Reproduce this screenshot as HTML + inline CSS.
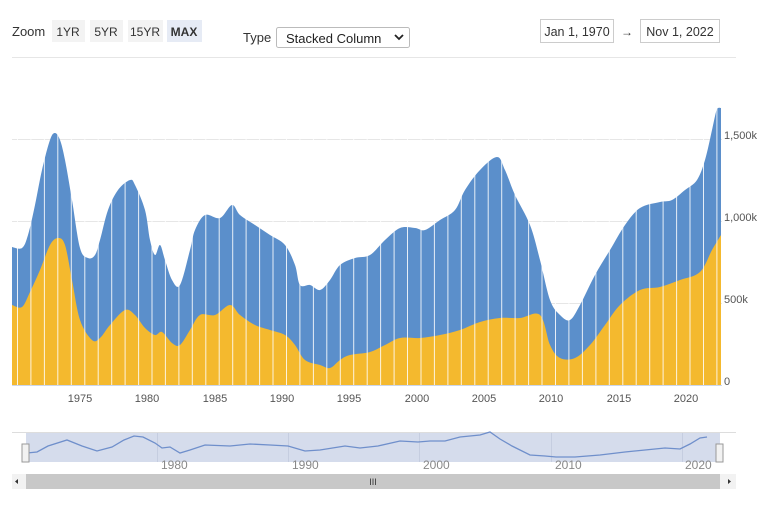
<!DOCTYPE html>
<html><head><meta charset="utf-8"><style>
body{margin:0;background:#fff;font-family:"Liberation Sans",sans-serif;}
</style></head><body>
<svg width="768" height="500" xmlns="http://www.w3.org/2000/svg" font-family="Liberation Sans, sans-serif">
<rect width="768" height="500" fill="#fff"/>
<text x="12" y="36" font-size="13" fill="#333">Zoom</text>
<rect x="52" y="20" width="33" height="22" fill="#f3f3f3"/><text x="68" y="36" font-size="12" fill="#333" text-anchor="middle">1YR</text>
<rect x="90" y="20" width="33" height="22" fill="#f3f3f3"/><text x="106" y="36" font-size="12" fill="#333" text-anchor="middle">5YR</text>
<rect x="128" y="20" width="35" height="22" fill="#f3f3f3"/><text x="145" y="36" font-size="12" fill="#333" text-anchor="middle">15YR</text>
<rect x="167" y="20" width="35" height="22" fill="#e6ebf5"/><text x="184" y="36" font-size="12" fill="#333" font-weight="bold" text-anchor="middle">MAX</text>
<text x="243" y="42" font-size="13" fill="#333">Type</text>
<rect x="276.5" y="27.5" width="133" height="20" fill="#fff" stroke="#bbb" rx="2"/>
<text x="286" y="43" font-size="13" fill="#222">Stacked Column</text>
<path d="M395 35 l4 4 l4 -4" stroke="#222" stroke-width="1.8" fill="none"/>
<rect x="540.5" y="19.5" width="73" height="23" fill="#fff" stroke="#ccc"/>
<text x="577" y="36" font-size="12.5" fill="#333" text-anchor="middle">Jan 1, 1970</text>
<text x="627" y="36" font-size="12" fill="#333" text-anchor="middle">→</text>
<rect x="640.5" y="19.5" width="79" height="23" fill="#fff" stroke="#ccc"/>
<text x="680" y="36" font-size="12.5" fill="#333" text-anchor="middle">Nov 1, 2022</text>
<line x1="12" y1="57.5" x2="736" y2="57.5" stroke="#e6e6e6"/>
<g stroke="#e6e6e6"><line x1="12" y1="139.5" x2="722" y2="139.5"/><line x1="12" y1="221.5" x2="722" y2="221.5"/><line x1="12" y1="303.5" x2="722" y2="303.5"/></g>
<path id="blue" fill="#5b8fcb"/>
<path id="yel" fill="#f4b92e"/>
<g id="gaps" stroke="#fff" stroke-width="1" opacity="0.85"></g>
<line x1="12" y1="385.5" x2="722" y2="385.5" stroke="#ccd6eb"/>
<g font-size="11" fill="#555">
<text x="724" y="139">1,500k</text><text x="724" y="221">1,000k</text><text x="724" y="303">500k</text><text x="724" y="385">0</text>
</g>
<g font-size="11" fill="#555" text-anchor="middle">
<text x="80" y="402">1975</text><text x="147" y="402">1980</text><text x="215" y="402">1985</text><text x="282" y="402">1990</text><text x="349" y="402">1995</text><text x="417" y="402">2000</text><text x="484" y="402">2005</text><text x="551" y="402">2010</text><text x="619" y="402">2015</text><text x="686" y="402">2020</text>
</g>
<line x1="12" y1="432.5" x2="736" y2="432.5" stroke="#ddd"/>
<rect x="26" y="433" width="694" height="29" fill="#d5dcec"/>
<g stroke="#c5cde0"><line x1="157.5" y1="433" x2="157.5" y2="462"/><line x1="288.5" y1="433" x2="288.5" y2="462"/><line x1="419.5" y1="433" x2="419.5" y2="462"/><line x1="551.5" y1="433" x2="551.5" y2="462"/><line x1="682.5" y1="433" x2="682.5" y2="462"/></g>
<polyline fill="none" stroke="#6f8fcb" stroke-width="1.3" points="27,453 37,452 48,446 67,440 82,446 97,451 112,447 124,440 134,436 143,437 155,443 162,448 170,447 180,453 190,450 205,445 230,446 250,444 270,445 288,446 305,451 320,450 345,446 360,448 378,446 400,441 418,442 430,441 445,441 460,437 480,435 490,432 500,439 512,446 530,455 545,456 556,457 575,457 600,455 625,452 645,450 665,448 680,449 690,444 700,438 707,437"/>
<g font-size="12" fill="#888"><text x="161" y="469">1980</text><text x="292" y="469">1990</text><text x="423" y="469">2000</text><text x="555" y="469">2010</text><text x="685" y="469">2020</text></g>
<rect x="22" y="444" width="7" height="18" fill="#f2f2f2" stroke="#999"/>
<rect x="716" y="444" width="7" height="18" fill="#f2f2f2" stroke="#999"/>
<rect x="12" y="474" width="724" height="15" fill="#f2f2f2"/>
<rect x="26" y="474" width="694" height="15" fill="#c8c8c8"/>
<text x="373" y="485" font-size="9" fill="#333" text-anchor="middle">III</text>
<path d="M18 479 l-3 2.5 l3 2.5z M728 479 l3 2.5 l-3 2.5z" fill="#333"/>
</svg>
<script>
var B=[12,247,22,248,28,235,35,205,42,170,50,140,55,133,60,140,65,160,72,200,80,248,88,258,95,255,100,240,108,210,118,190,130,180,135,185,145,210,150,240,155,255,160,245,165,260,172,280,180,285,190,250,195,230,205,215,220,218,232,205,240,215,255,225,270,235,285,245,295,265,300,285,310,285,320,290,330,280,340,265,355,258,370,255,385,240,400,228,415,228,425,230,440,220,455,210,465,190,480,170,497,157,505,170,515,195,530,225,540,260,550,300,560,315,570,320,580,305,595,275,610,250,625,225,640,208,660,202,672,200,685,190,697,180,705,160,712,130,716,112,718,108,721,108];
var Y=[12,305,22,307,30,292,40,270,50,245,58,238,65,245,72,280,80,320,92,340,100,338,110,325,125,310,135,315,145,328,155,335,162,332,172,343,180,345,190,330,200,315,215,315,230,305,240,315,255,325,270,330,285,335,295,345,305,360,320,365,330,368,340,360,350,355,370,352,385,345,400,338,420,338,440,335,460,330,480,322,500,318,520,318,540,315,550,345,560,358,575,358,590,345,605,325,620,305,640,290,660,287,680,280,700,272,712,250,721,235];
function sm(a){var p=[];for(var i=0;i<a.length;i+=2)p.push([a[i],a[i+1]]);
var d='M12,385 L'+p[0][0]+','+p[0][1];
for(var i=0;i<p.length-1;i++){var p0=p[Math.max(i-1,0)],p1=p[i],p2=p[i+1],p3=p[Math.min(i+2,p.length-1)];
var c1x=p1[0]+(p2[0]-p0[0])/6,c1y=p1[1]+(p2[1]-p0[1])/6,c2x=p2[0]-(p3[0]-p1[0])/6,c2y=p2[1]-(p3[1]-p1[1])/6;
d+=' C'+c1x.toFixed(1)+','+c1y.toFixed(1)+' '+c2x.toFixed(1)+','+c2y.toFixed(1)+' '+p2[0]+','+p2[1];}
return d+' L721,385 Z';}
document.getElementById('blue').setAttribute('d',sm(B));
document.getElementById('yel').setAttribute('d',sm(Y));
var g=document.getElementById('gaps'),s='';
for(var x=17.5;x<720;x+=13.45){s+='<line x1="'+x.toFixed(1)+'" y1="100" x2="'+x.toFixed(1)+'" y2="385"/>';}
g.innerHTML=s;
</script>
</body></html>
